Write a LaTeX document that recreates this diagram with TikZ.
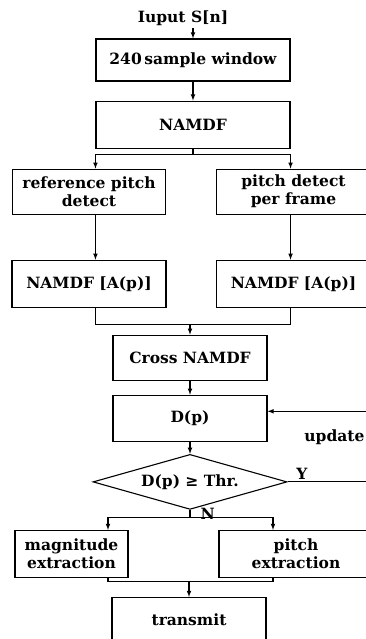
\documentclass[tikz,border=0pt]{standalone}
\usepackage{fontspec}
\setmainfont{DejaVu Serif}
\usetikzlibrary{arrows,positioning,shapes.geometric}

\begin{document}
\begin{tikzpicture}[-,>=latex,x=1pt,y=1pt,line width=1.1pt,
                    main node/.style={rectangle,draw,minimum width=154pt,minimum height=46pt,
                                      align=center,font=\bfseries\fontsize{15.5}{18}\selectfont},
                    wide node/.style={main node,minimum width=194pt},
                    test node/.style={diamond,draw,aspect=3.5,inner sep=0pt,minimum width=194pt,
                                      minimum height=55pt,font=\bfseries\fontsize{15.5}{18}\selectfont},
                    text node/.style={inner sep=2pt,font=\bfseries\fontsize{15.5}{18}\selectfont}]

  \useasboundingbox (0,0) rectangle (366,639);
  \clip (0,0) rectangle (366,639);

  \node[wide node,minimum height=42pt] (win) at (193,579) {240\,sample window};
  \node[wide node,minimum height=47pt] (namdf) [below=19pt of win] {NAMDF};
  \node[main node,minimum width=153pt,minimum height=45pt] (refp) [below=20pt of namdf,xshift=-104pt] {reference pitch\\detect};
  \node[main node,minimum height=45pt] (pdet) [below=20pt of namdf,xshift=100.5pt] {pitch detect\\per frame};
  \node[main node,minimum height=47pt] (na) [below=45pt of refp] {NAMDF [A(p)]};
  \node[main node,minimum height=47pt] (nb) [below=45pt of pdet] {NAMDF [A(p)]};
  \node[main node,minimum height=45pt] (cross) [below=186pt of namdf,xshift=-3pt] {Cross NAMDF};
  \node[main node] (dp) [below=14pt of cross] {D(p)};
  \node[test node] (dec) [below=12pt of dp] {D(p) ≥ Thr.};
  \node[main node,minimum width=113pt,minimum height=47pt] (mag) [below=20pt of dec,xshift=-118.5pt] {magnitude\\extraction};
  \node[main node,minimum height=47pt] (pex) [below=20pt of dec,xshift=106pt] {pitch\\extraction};
  \node[main node,minimum height=45pt] (tx) [below=87pt of dec,xshift=-1pt] {transmit};
  \node[text node] (inp) [above=10pt of win,xshift=-10pt] {Iuput S[n]};
  \node[text node,anchor=east] (upd) at (367,202) {update};

  \coordinate[below=6pt of namdf.south] (fork);
  \coordinate[above=10pt of cross.north] (join);
  \coordinate[below=8pt of dec.south] (split);
  \coordinate[above=15pt of tx.north] (merge);
  \coordinate (lft) at ([xshift=-82pt]split);
  \coordinate (rgt) at ([xshift=83pt]split);
  \coordinate[right=95pt of dec.east] (loop);

  \draw[->] (inp.south -| win.north) -- (win.north);
  \draw[->] (win) -- (namdf);
  \draw (namdf.south) -- (fork);
  \draw[->] (fork) -| (refp.north -| namdf.west);
  \draw[->] (fork) -| (pdet.north -| namdf.east);
  \draw[->] (refp.south -| namdf.west) -- (na.north -| namdf.west);
  \draw[->] (pdet.south -| namdf.east) -- (nb.north -| namdf.east);
  \draw (na.south -| namdf.west) |- (join) -| (nb.south -| namdf.east);
  \draw[->] (join) -- (cross);
  \draw[->] (cross) -- (dp);
  \draw[->] (dp) -- (dec);
  \draw[->] (dec.east) -- node[text node,pos=0.15,above] {Y} (loop) |- ([yshift=7pt]dp.east);
  \draw (dec.south) -- node[text node,right=8pt] {N} (split);
  \draw[->] (split) -| (lft |- mag.north);
  \draw[->] (split) -| (rgt |- pex.north);
  \draw (lft |- mag.south) |- (merge) -| (rgt |- pex.south);
  \draw[->] (merge) -- (tx);
\end{tikzpicture}
\end{document}
